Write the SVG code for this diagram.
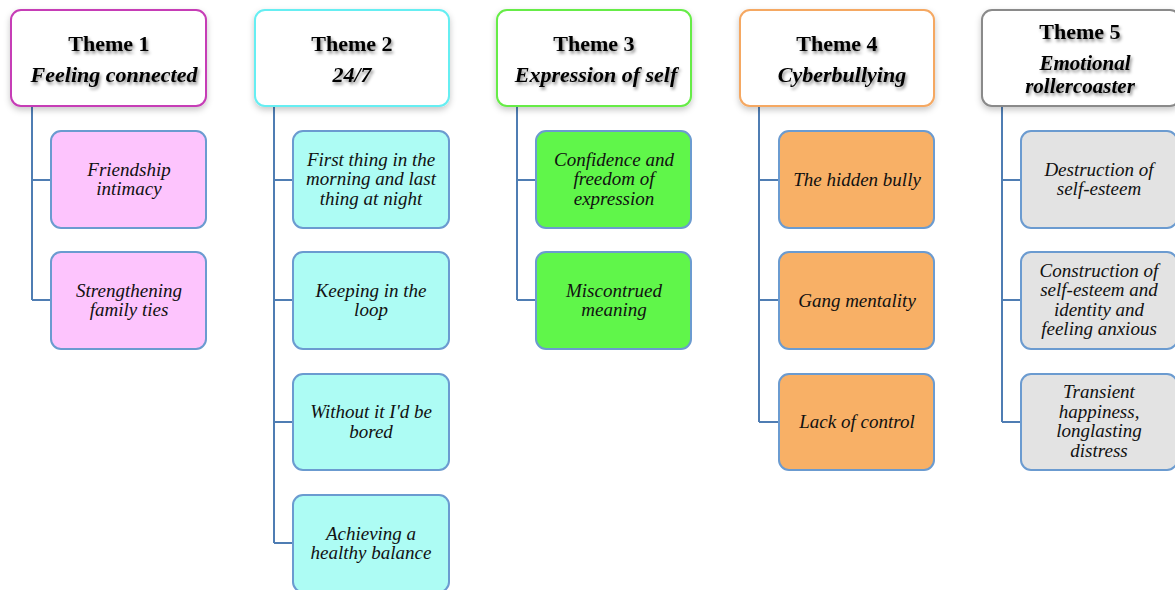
<svg xmlns="http://www.w3.org/2000/svg" width="1175" height="590" viewBox="0 0 1175 590">
<defs>
<filter id="boxShadow" x="-10%" y="-10%" width="120%" height="130%">
<feDropShadow dx="0" dy="3" stdDeviation="3" flood-color="#000" flood-opacity="0.22"/>
</filter>
<filter id="textShadow" x="-10%" y="-30%" width="120%" height="170%">
<feDropShadow dx="1.5" dy="2.5" stdDeviation="1.6" flood-color="#000" flood-opacity="0.45"/>
</filter>
</defs>
<style>
.theme{fill:#fff;stroke-width:2;filter:url(#boxShadow)}
.child{stroke:#6b9bd0;stroke-width:2}
.h{font-family:"Liberation Serif",serif;font-size:22px;font-weight:bold;fill:#000;text-anchor:middle;filter:url(#textShadow)}
.hi{font-style:italic}
.t{font-family:"Liberation Serif",serif;font-size:19px;font-style:italic;fill:#111;text-anchor:middle}
.conn{fill:none;stroke:#4f7db3;stroke-width:2}
.c1{fill:#fdc4fd}.c2{fill:#adfcf4}.c3{fill:#60f64a}.c4{fill:#f8b066}.c5{fill:#e3e3e3}
</style>
<g id="connectors">
<path class="conn" d="M32 106V300M32 180H51M32 300H51"/>
<path class="conn" d="M274 106V543M274 180H293M274 300H293M274 422H293M274 543H293"/>
<path class="conn" d="M517 106V300M517 180H536M517 300H536"/>
<path class="conn" d="M759 106V422M759 180H779M759 300H779M759 422H779"/>
<path class="conn" d="M1002 106V422M1002 180H1021M1002 300H1021M1002 422H1021"/>
</g>
<g id="theme1">
<rect class="theme" x="11" y="10" width="195" height="96" rx="10" stroke="#c63db6"/>
<text class="h" x="109" y="51">Theme 1</text>
<text class="h hi" x="114" y="82">Feeling connected</text>
</g>
<g id="theme2">
<rect class="theme" x="255" y="10" width="194" height="96" rx="10" stroke="#66eef2"/>
<text class="h" x="352" y="51">Theme 2</text>
<text class="h hi" x="352" y="82">24/7</text>
</g>
<g id="theme3">
<rect class="theme" x="497" y="10" width="194" height="96" rx="10" stroke="#66ec46"/>
<text class="h" x="594" y="51">Theme 3</text>
<text class="h hi" x="596" y="82">Expression of self</text>
</g>
<g id="theme4">
<rect class="theme" x="740" y="10" width="194" height="96" rx="10" stroke="#f5a862"/>
<text class="h" x="837" y="51">Theme 4</text>
<text class="h hi" x="842" y="82">Cyberbullying</text>
</g>
<g id="theme5">
<rect class="theme" x="982" y="10" width="198" height="96" rx="10" stroke="#8a8a8a"/>
<text class="h" x="1080" y="39">Theme 5</text>
<text class="h hi" x="1085" y="69.5" style="font-size:21px">Emotional</text>
<text class="h hi" x="1080" y="93" style="font-size:21px">rollercoaster</text>
</g>
<g id="t1c1"><rect class="child c1" x="51" y="131" width="155" height="97" rx="10"/>
<text class="t" x="129" y="175.5">Friendship<tspan x="129" dy="19.5">intimacy</tspan></text></g>
<g id="t1c2"><rect class="child c1" x="51" y="252" width="155" height="97" rx="10"/>
<text class="t" x="129" y="296.5">Strengthening<tspan x="129" dy="19.5">family ties</tspan></text></g>
<g id="t2c1"><rect class="child c2" x="293" y="131" width="156" height="97" rx="10"/>
<text class="t" x="371" y="165.5">First thing in the<tspan x="371" dy="19.5">morning and last</tspan><tspan x="371" dy="19.5">thing at night</tspan></text></g>
<g id="t2c2"><rect class="child c2" x="293" y="252" width="156" height="97" rx="10"/>
<text class="t" x="371" y="296.5">Keeping in the<tspan x="371" dy="19.5">loop</tspan></text></g>
<g id="t2c3"><rect class="child c2" x="293" y="374" width="156" height="96" rx="10"/>
<text class="t" x="371" y="418">Without it I'd be<tspan x="371" dy="19.5">bored</tspan></text></g>
<g id="t2c4"><rect class="child c2" x="293" y="495" width="156" height="97" rx="10"/>
<text class="t" x="371" y="539.5">Achieving a<tspan x="371" dy="19.5">healthy balance</tspan></text></g>
<g id="t3c1"><rect class="child c3" x="536" y="131" width="155" height="97" rx="10"/>
<text class="t" x="614" y="165.5">Confidence and<tspan x="614" dy="19.5">freedom of</tspan><tspan x="614" dy="19.5">expression</tspan></text></g>
<g id="t3c2"><rect class="child c3" x="536" y="252" width="155" height="97" rx="10"/>
<text class="t" x="614" y="296.5">Miscontrued<tspan x="614" dy="19.5">meaning</tspan></text></g>
<g id="t4c1"><rect class="child c4" x="779" y="131" width="155" height="97" rx="10"/>
<text class="t" x="857" y="185.5">The hidden bully</text></g>
<g id="t4c2"><rect class="child c4" x="779" y="252" width="155" height="97" rx="10"/>
<text class="t" x="857" y="306.5">Gang mentality</text></g>
<g id="t4c3"><rect class="child c4" x="779" y="374" width="155" height="96" rx="10"/>
<text class="t" x="857" y="428">Lack of control</text></g>
<g id="t5c1"><rect class="child c5" x="1021" y="131" width="156" height="97" rx="10"/>
<text class="t" x="1099" y="175.5">Destruction of<tspan x="1099" dy="19.5">self-esteem</tspan></text></g>
<g id="t5c2"><rect class="child c5" x="1021" y="252" width="156" height="97" rx="10"/>
<text class="t" x="1099" y="276.75">Construction of<tspan x="1099" dy="19.5">self-esteem and</tspan><tspan x="1099" dy="19.5">identity and</tspan><tspan x="1099" dy="19.5">feeling anxious</tspan></text></g>
<g id="t5c3"><rect class="child c5" x="1021" y="374" width="156" height="96" rx="10"/>
<text class="t" x="1099" y="398">Transient<tspan x="1099" dy="19.5">happiness,</tspan><tspan x="1099" dy="19.5">longlasting</tspan><tspan x="1099" dy="19.5">distress</tspan></text></g>
</svg>
